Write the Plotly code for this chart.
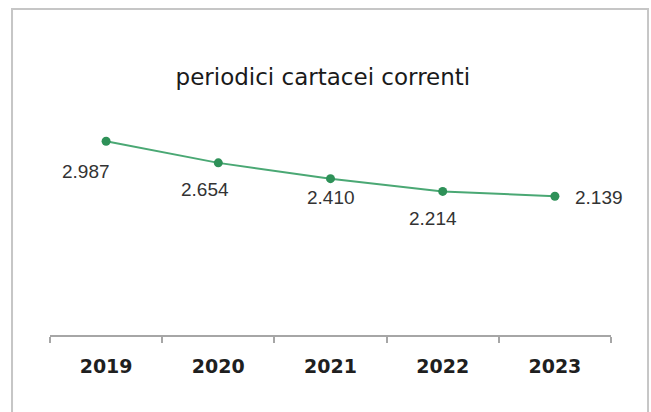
import plotly.graph_objects as go

# data
anni = ["2019", "2020", "2021", "2022", "2023"]
periodici = [2987, 2654, 2410, 2214, 2139]
etichette = ["2.987", "2.654", "2.410", "2.214", "2.139"]

# label offsets (px), as placed in the original chart
label_dx = [-20, -13, 0, -10, 44]
label_dy = [-30, -27, -19, -27, -1]

fig = go.Figure()
fig.add_trace(go.Scatter(
    x=anni, y=periodici,
    mode="lines+markers",
    line=dict(color="#4aa874", width=2),
    marker=dict(color="#2e9158", size=9),
    hoverinfo="x+y",
))

annotations = []
for i, (v, t, dx, dy) in enumerate(zip(periodici, etichette, label_dx, label_dy)):
    annotations.append(dict(
        xref="x", yref="y", x=i, y=v, text=t, showarrow=False,
        xshift=dx, yshift=dy,
        font=dict(family="Liberation Sans", size=19, color="#333333"),
    ))

# grey frame of the chart area (left, top, right)
frame = dict(
    type="path", xref="paper", yref="paper",
    path="M -0.0677,-0.4 L -0.0677,1.436 L 1.066,1.436 L 1.066,-0.4",
    line=dict(color="#c6c6c6", width=2),
)

fig.update_layout(
    width=651, height=412,
    margin=dict(l=50, r=40, t=108, b=77),
    paper_bgcolor="white", plot_bgcolor="white",
    showlegend=False,
    annotations=annotations,
    shapes=[frame],
    title=dict(
        text="periodici cartacei correnti",
        x=0.496, xanchor="center", y=0.813, yanchor="middle",
        font=dict(family="DejaVu Sans", size=23, color="#1a1a1a"),
    ),
)
fig.update_xaxes(
    type="category", range=[-0.5, 4.5],
    showline=True, linecolor="#a6a6a6", linewidth=1.5,
    ticks="outside", tickson="boundaries", ticklen=6, tickcolor="#a6a6a6", tickwidth=1.5,
    showgrid=False, zeroline=False,
    tickfont=dict(family="DejaVu Sans", size=19, color="#1f1f1f", weight="bold"),
    ticklabelstandoff=13,
)
fig.update_yaxes(range=[0, 3500], visible=False)

# drop the default 8px page margin so the figure fills the window
fig.write_html(
    "out.html",
    config={"displayModeBar": False},
    post_script="document.body.style.margin = '0';",
)
